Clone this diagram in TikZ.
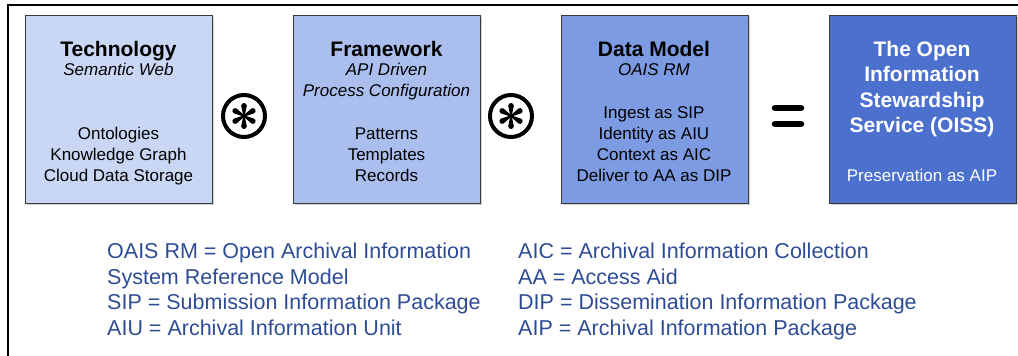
\documentclass[tikz,border=0pt]{standalone}
\usepackage{fontspec}
\setmainfont{Liberation Sans}
\usetikzlibrary{shadows}

\definecolor{techfill}{HTML}{C9D7F5}
\definecolor{frameworkfill}{HTML}{ABBFEF}
\definecolor{modelfill}{HTML}{7D9BE2}
\definecolor{oissfill}{HTML}{4C70CD}
\definecolor{legendblue}{HTML}{2E4C94}
\definecolor{boxedge}{HTML}{3A3A3A}

\begin{document}
\begin{tikzpicture}[x=1pt,y=-1pt,
  panel/.style={draw=boxedge, line width=1pt, minimum width=187pt, minimum height=188pt,
    anchor=north west, inner sep=0pt,
    drop shadow={shadow xshift=1.5pt, shadow yshift=-1.5pt, opacity=0.35}},
  paneltitle/.style={anchor=base, font=\fontsize{21}{25}\selectfont\bfseries},
  panelsub/.style={anchor=base, font=\fontsize{17}{21}\selectfont\itshape},
  panelitem/.style={anchor=base, font=\fontsize{17}{21}\selectfont},
  legendline/.style={anchor=base west, text=legendblue, inner sep=0pt,
    font=\fontsize{21.5}{25}\selectfont},
  oper/.style={circle, draw, line width=4pt, minimum size=42pt, inner sep=0pt},
  eqbar/.style={line width=6.5pt, line cap=round},
]
\useasboundingbox (0,0) rectangle (1018,356);

% outer frame (top and left edges)
\draw[line width=2pt] (8,356) -- (8,5) -- (1018,5);

% four panels
\node[panel, fill=techfill]      (tech)  at (25,15)  {};
\node[panel, fill=frameworkfill] (frame) at (293,15) {};
\node[panel, fill=modelfill]     (model) at (561,15) {};
\node[panel, fill=oissfill]      (oiss)  at (829,15) {};

% Technology
\node[paneltitle] (tech-t)  at (118.5,56.5) {Technology};
\node[panelsub]   (tech-s)  at (118.5,75)   {Semantic Web};
\node[panelitem]  (tech-i1) at (118.5,139)  {Ontologies};
\node[panelitem]  (tech-i2) at (118.5,160)  {Knowledge Graph};
\node[panelitem]  (tech-i3) at (118.5,181)  {Cloud Data Storage};

% Framework
\node[paneltitle] (frame-t)  at (386.5,56.5) {Framework};
\node[panelsub]   (frame-s1) at (386.5,75)   {API Driven};
\node[panelsub]   (frame-s2) at (386.5,96)   {Process Configuration};
\node[panelitem]  (frame-i1) at (386.5,139)  {Patterns};
\node[panelitem]  (frame-i2) at (386.5,160)  {Templates};
\node[panelitem]  (frame-i3) at (386.5,181)  {Records};

% Data Model
\node[paneltitle] (model-t)  at (654,56.5) {Data Model};
\node[panelsub]   (model-s)  at (654,75)   {OAIS RM};
\node[panelitem]  (model-i1) at (654,118)  {Ingest as SIP};
\node[panelitem]  (model-i2) at (654,139)  {Identity as AIU};
\node[panelitem]  (model-i3) at (654,160)  {Context as AIC};
\node[panelitem]  (model-i4) at (654,181)  {Deliver to AA as DIP};

% OISS
\node[paneltitle, text=white] (oiss-t1) at (922,56)    {The Open};
\node[paneltitle, text=white] (oiss-t2) at (922,81.5)  {Information};
\node[paneltitle, text=white] (oiss-t3) at (922,107)   {Stewardship};
\node[paneltitle, text=white] (oiss-t4) at (922,132.5) {Service (OISS)};
\node[panelitem,  text=white] (oiss-i)  at (922,181)   {Preservation as AIP};

% circled asterisk operators: six tear-drop spokes inside a ring
\foreach \n/\x in {times1/244, times2/511} {
  \node[oper] (\n) at (\x,116) {};
  \foreach \a in {30,90,150,210,270,330}
    \fill[shift={(\n.center)}, rotate=\a]
      (0,-0.7) -- (10.2,-2.8) arc[start angle=-90, end angle=90, radius=2.8]
      -- (0,0.7) -- cycle;
}

% equals sign
\coordinate (equals) at (788,116);
\draw[eqbar] ([shift={(-13,-8)}]equals) -- ([shift={(13,-8)}]equals);
\draw[eqbar] ([shift={(-13,8)}]equals) -- ([shift={(13,8)}]equals);

% glossary
\node[legendline] (g1) at (107,258)   {OAIS RM = Open Archival Information};
\node[legendline] (g2) at (107,284)   {System Reference Model};
\node[legendline] (g3) at (107,309.5) {SIP = Submission Information Package};
\node[legendline] (g4) at (107,335)   {AIU = Archival Information Unit};
\node[legendline] (g5) at (518,258)   {AIC = Archival Information Collection};
\node[legendline] (g6) at (518,284)   {AA = Access Aid};
\node[legendline] (g7) at (518,309.5) {DIP = Dissemination Information Package};
\node[legendline] (g8) at (518,335)   {AIP = Archival Information Package};
\end{tikzpicture}
\end{document}
